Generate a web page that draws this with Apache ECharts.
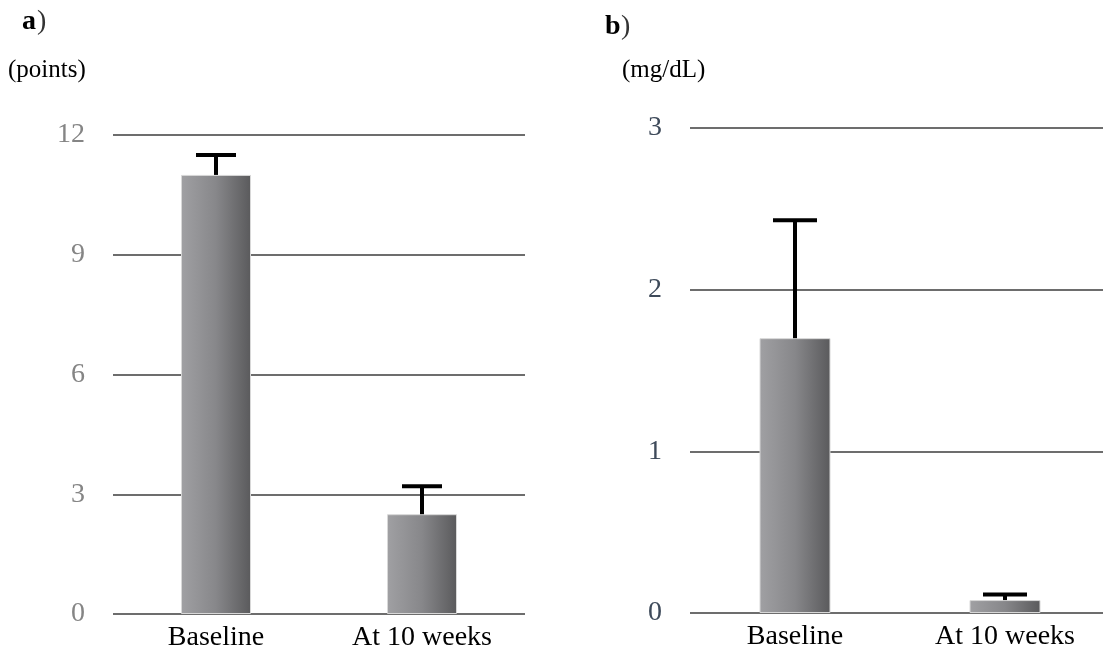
<!DOCTYPE html>
<html><head><meta charset="utf-8">
<script src="https://cdn.jsdelivr.net/npm/echarts@6/dist/echarts.min.js"></script>
<style>html,body{margin:0;padding:0;background:#fff}#c{width:1103px;height:656px}</style>
</head><body><div id="c"></div>
<script>
var categories = ['Baseline', 'At 10 weeks'];
var scoreMeans = [11.0, 2.5];
var scoreErrTop = [11.5, 3.2];
var scoreTicks = [0, 3, 6, 9, 12];
var mgMeans = [1.7, 0.08];
var mgErrTop = [2.43, 0.115];
var mgTicks = [0, 1, 2, 3];

var serif = '"Liberation Serif","Times New Roman",serif';
var barColor = {type:'linear', x:0, y:0, x2:1, y2:0, colorStops:[
  {offset:0, color:'#a0a0a3'}, {offset:0.5, color:'#87878a'}, {offset:1, color:'#5a5a5c'}]};

function errSeries(idx, means, tops, capW){
  return {
    type:'custom', xAxisIndex:idx, yAxisIndex:idx, z:5,
    data: means.map(function(m,i){return [i, m, tops[i]];}),
    renderItem:function(params, api){
      var p0 = api.coord([api.value(0), api.value(1)]);
      var p1 = api.coord([api.value(0), api.value(2)]);
      var st = {stroke:'#000', lineWidth:4};
      return {type:'group', children:[
        {type:'line', shape:{x1:p0[0], y1:p0[1], x2:p1[0], y2:p1[1]}, style:st},
        {type:'line', shape:{x1:p1[0]-capW/2, y1:p1[1], x2:p1[0]+capW/2, y2:p1[1]}, style:st}
      ]};
    }
  };
}

function yAx(idx, ticks, color){
  return {
    type:'value', gridIndex:idx, min:ticks[0], max:ticks[ticks.length-1],
    interval:ticks[1]-ticks[0],
    axisLine:{show:false}, axisTick:{show:false},
    axisLabel:{margin:28, color:color, fontFamily:serif, fontSize:28},
    splitLine:{show:true, lineStyle:{color:'#3c3c3c', width:1.5}}
  };
}
function xAx(idx){
  return {
    type:'category', gridIndex:idx, data:categories,
    axisLine:{show:false}, axisTick:{show:false},
    axisLabel:{margin:10, color:'#000', fontFamily:serif, fontSize:28}
  };
}

var chart = echarts.init(document.getElementById('c'));
chart.setOption({
  animation:false,
  grid:[
    {left:113, width:412, top:135, height:479, outerBoundsMode:'none', containLabel:false},
    {left:690, width:420, top:128, height:485, outerBoundsMode:'none', containLabel:false}
  ],
  xAxis:[xAx(0), xAx(1)],
  yAxis:[yAx(0, scoreTicks, '#858585'), yAx(1, mgTicks, '#3e4a5a')],
  graphic:[
    {type:'text', left:22, top:8, style:{text:'a', font:'bold 28px '+serif, fill:'#000'}},
    {type:'text', left:37, top:8, style:{text:')', font:'28px '+serif, fill:'#333'}},
    {type:'text', left:8, top:58, style:{text:'(points)', font:'25px '+serif, fill:'#000'}},
    {type:'text', left:605, top:13, style:{text:'b', font:'bold 28px '+serif, fill:'#000'}},
    {type:'text', left:621, top:13, style:{text:')', font:'28px '+serif, fill:'#333'}},
    {type:'text', left:622, top:58, style:{text:'(mg/dL)', font:'25px '+serif, fill:'#000'}}
  ],
  series:[
    {type:'bar', xAxisIndex:0, yAxisIndex:0, data:scoreMeans, barWidth:70,
     itemStyle:{color:barColor, borderColor:'#d8d8d8', borderWidth:1}},
    errSeries(0, scoreMeans, scoreErrTop, 40),
    {type:'bar', xAxisIndex:1, yAxisIndex:1, data:mgMeans, barWidth:71,
     itemStyle:{color:barColor, borderColor:'#d8d8d8', borderWidth:1}},
    errSeries(1, mgMeans, mgErrTop, 44)
  ]
});
</script></body></html>
